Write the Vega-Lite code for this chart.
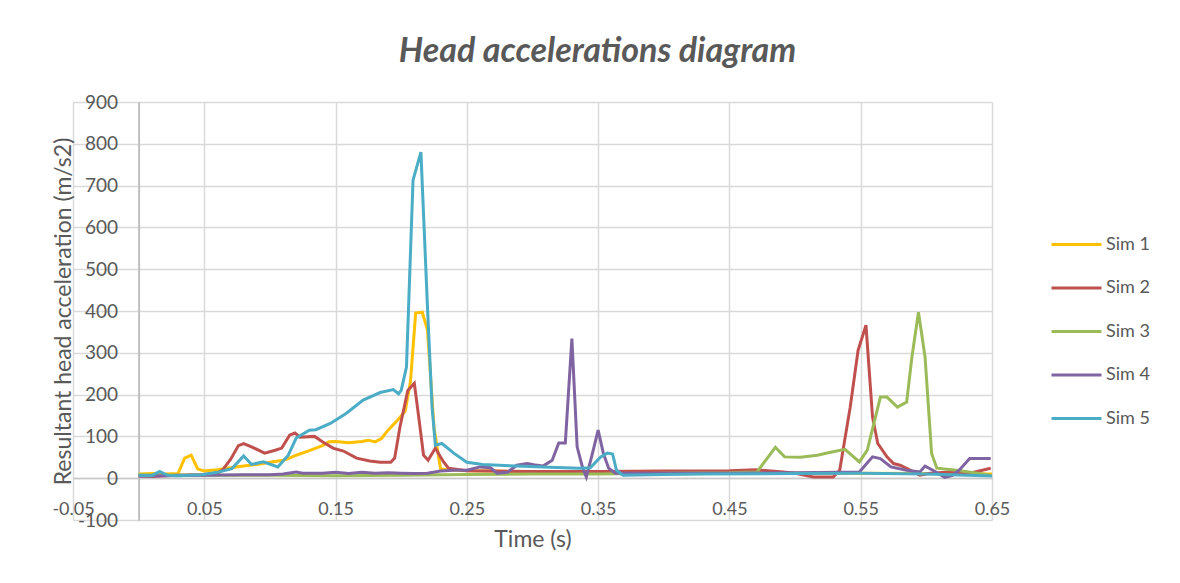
{
  "$schema": "https://vega.github.io/schema/vega-lite/v6.json",
  "autosize": {"type": "none"},
  "padding": {"left": 73, "top": 102, "right": 188, "bottom": 63},
  "width": 919,
  "height": 418,
  "background": "white",
  "config": {
    "font": "Lato",
    "view": {"stroke": null},
    "axis": {"labelFont": "Lato", "titleFont": "Lato", "labelColor": "#595959", "titleColor": "#595959", "titleFontWeight": "normal", "gridColor": "#d9d9d9", "gridWidth": 1.5, "ticks": false}
  },
  "title": {"text": "Head accelerations diagram", "font": "Lato", "fontSize": 34, "fontStyle": "italic", "fontWeight": "bold", "color": "#595959", "anchor": "middle", "dx": 65, "offset": 24},
  "data": {"values": [
    {"series":"Sim 1","time":0,"acc":10},{"series":"Sim 1","time":0.01,"acc":11},{"series":"Sim 1","time":0.02,"acc":10},{"series":"Sim 1","time":0.03,"acc":11},{"series":"Sim 1","time":0.035,"acc":48},{"series":"Sim 1","time":0.04,"acc":55},{"series":"Sim 1","time":0.045,"acc":22},{"series":"Sim 1","time":0.05,"acc":17},{"series":"Sim 1","time":0.06,"acc":20},{"series":"Sim 1","time":0.07,"acc":25},{"series":"Sim 1","time":0.08,"acc":29},{"series":"Sim 1","time":0.09,"acc":33},{"series":"Sim 1","time":0.1,"acc":38},{"series":"Sim 1","time":0.11,"acc":43},{"series":"Sim 1","time":0.115,"acc":48},{"series":"Sim 1","time":0.12,"acc":55},{"series":"Sim 1","time":0.13,"acc":66},{"series":"Sim 1","time":0.14,"acc":78},{"series":"Sim 1","time":0.145,"acc":87},{"series":"Sim 1","time":0.15,"acc":88},{"series":"Sim 1","time":0.16,"acc":85},{"series":"Sim 1","time":0.17,"acc":88},{"series":"Sim 1","time":0.175,"acc":91},{"series":"Sim 1","time":0.18,"acc":87},{"series":"Sim 1","time":0.185,"acc":95},{"series":"Sim 1","time":0.19,"acc":115},{"series":"Sim 1","time":0.197,"acc":138},{"series":"Sim 1","time":0.203,"acc":160},{"series":"Sim 1","time":0.207,"acc":230},{"series":"Sim 1","time":0.211,"acc":395},{"series":"Sim 1","time":0.216,"acc":397},{"series":"Sim 1","time":0.22,"acc":355},{"series":"Sim 1","time":0.225,"acc":120},{"series":"Sim 1","time":0.23,"acc":22},{"series":"Sim 1","time":0.24,"acc":19},{"series":"Sim 1","time":0.25,"acc":18},{"series":"Sim 1","time":0.27,"acc":17},{"series":"Sim 1","time":0.3,"acc":15},{"series":"Sim 1","time":0.35,"acc":15},{"series":"Sim 1","time":0.4,"acc":14},{"series":"Sim 1","time":0.45,"acc":13},{"series":"Sim 1","time":0.5,"acc":12},{"series":"Sim 1","time":0.55,"acc":12},{"series":"Sim 1","time":0.6,"acc":11},{"series":"Sim 1","time":0.65,"acc":10},
    {"series":"Sim 2","time":0,"acc":5},{"series":"Sim 2","time":0.01,"acc":4},{"series":"Sim 2","time":0.02,"acc":6},{"series":"Sim 2","time":0.03,"acc":7},{"series":"Sim 2","time":0.04,"acc":8},{"series":"Sim 2","time":0.05,"acc":9},{"series":"Sim 2","time":0.06,"acc":12},{"series":"Sim 2","time":0.064,"acc":20},{"series":"Sim 2","time":0.07,"acc":45},{"series":"Sim 2","time":0.076,"acc":78},{"series":"Sim 2","time":0.08,"acc":83},{"series":"Sim 2","time":0.086,"acc":75},{"series":"Sim 2","time":0.096,"acc":60},{"series":"Sim 2","time":0.104,"acc":67},{"series":"Sim 2","time":0.109,"acc":72},{"series":"Sim 2","time":0.115,"acc":103},{"series":"Sim 2","time":0.119,"acc":108},{"series":"Sim 2","time":0.123,"acc":98},{"series":"Sim 2","time":0.134,"acc":100},{"series":"Sim 2","time":0.14,"acc":87},{"series":"Sim 2","time":0.148,"acc":72},{"series":"Sim 2","time":0.156,"acc":65},{"series":"Sim 2","time":0.166,"acc":48},{"series":"Sim 2","time":0.176,"acc":41},{"series":"Sim 2","time":0.184,"acc":38},{"series":"Sim 2","time":0.192,"acc":38},{"series":"Sim 2","time":0.195,"acc":48},{"series":"Sim 2","time":0.199,"acc":122},{"series":"Sim 2","time":0.205,"acc":210},{"series":"Sim 2","time":0.21,"acc":227},{"series":"Sim 2","time":0.214,"acc":130},{"series":"Sim 2","time":0.217,"acc":55},{"series":"Sim 2","time":0.2205,"acc":43},{"series":"Sim 2","time":0.226,"acc":72},{"series":"Sim 2","time":0.232,"acc":40},{"series":"Sim 2","time":0.236,"acc":24},{"series":"Sim 2","time":0.25,"acc":18},{"series":"Sim 2","time":0.3,"acc":16},{"series":"Sim 2","time":0.35,"acc":16},{"series":"Sim 2","time":0.4,"acc":17},{"series":"Sim 2","time":0.45,"acc":18},{"series":"Sim 2","time":0.47,"acc":20},{"series":"Sim 2","time":0.491,"acc":15},{"series":"Sim 2","time":0.5,"acc":12},{"series":"Sim 2","time":0.514,"acc":3},{"series":"Sim 2","time":0.529,"acc":3},{"series":"Sim 2","time":0.534,"acc":19},{"series":"Sim 2","time":0.542,"acc":170},{"series":"Sim 2","time":0.548,"acc":306},{"series":"Sim 2","time":0.554,"acc":366},{"series":"Sim 2","time":0.559,"acc":146},{"series":"Sim 2","time":0.563,"acc":83},{"series":"Sim 2","time":0.57,"acc":51},{"series":"Sim 2","time":0.575,"acc":35},{"series":"Sim 2","time":0.58,"acc":31},{"series":"Sim 2","time":0.588,"acc":19},{"series":"Sim 2","time":0.595,"acc":7},{"series":"Sim 2","time":0.603,"acc":12},{"series":"Sim 2","time":0.618,"acc":15},{"series":"Sim 2","time":0.633,"acc":12},{"series":"Sim 2","time":0.649,"acc":24},
    {"series":"Sim 3","time":0,"acc":8},{"series":"Sim 3","time":0.05,"acc":7},{"series":"Sim 3","time":0.1,"acc":7},{"series":"Sim 3","time":0.15,"acc":6},{"series":"Sim 3","time":0.2,"acc":7},{"series":"Sim 3","time":0.25,"acc":9},{"series":"Sim 3","time":0.3,"acc":10},{"series":"Sim 3","time":0.35,"acc":10},{"series":"Sim 3","time":0.4,"acc":12},{"series":"Sim 3","time":0.45,"acc":13},{"series":"Sim 3","time":0.471,"acc":15},{"series":"Sim 3","time":0.485,"acc":74},{"series":"Sim 3","time":0.492,"acc":51},{"series":"Sim 3","time":0.504,"acc":50},{"series":"Sim 3","time":0.517,"acc":55},{"series":"Sim 3","time":0.527,"acc":62},{"series":"Sim 3","time":0.538,"acc":69},{"series":"Sim 3","time":0.549,"acc":39},{"series":"Sim 3","time":0.555,"acc":67},{"series":"Sim 3","time":0.565,"acc":194},{"series":"Sim 3","time":0.57,"acc":194},{"series":"Sim 3","time":0.578,"acc":170},{"series":"Sim 3","time":0.585,"acc":182},{"series":"Sim 3","time":0.589,"acc":290},{"series":"Sim 3","time":0.594,"acc":397},{"series":"Sim 3","time":0.599,"acc":290},{"series":"Sim 3","time":0.604,"acc":59},{"series":"Sim 3","time":0.608,"acc":24},{"series":"Sim 3","time":0.623,"acc":19},{"series":"Sim 3","time":0.639,"acc":12},{"series":"Sim 3","time":0.649,"acc":7},
    {"series":"Sim 4","time":0,"acc":5},{"series":"Sim 4","time":0.02,"acc":6},{"series":"Sim 4","time":0.05,"acc":7},{"series":"Sim 4","time":0.08,"acc":8},{"series":"Sim 4","time":0.1,"acc":8},{"series":"Sim 4","time":0.11,"acc":10},{"series":"Sim 4","time":0.12,"acc":15},{"series":"Sim 4","time":0.125,"acc":12},{"series":"Sim 4","time":0.14,"acc":12},{"series":"Sim 4","time":0.15,"acc":14},{"series":"Sim 4","time":0.16,"acc":11},{"series":"Sim 4","time":0.17,"acc":14},{"series":"Sim 4","time":0.18,"acc":12},{"series":"Sim 4","time":0.19,"acc":13},{"series":"Sim 4","time":0.2,"acc":12},{"series":"Sim 4","time":0.21,"acc":11},{"series":"Sim 4","time":0.22,"acc":12},{"series":"Sim 4","time":0.23,"acc":17},{"series":"Sim 4","time":0.24,"acc":19},{"series":"Sim 4","time":0.25,"acc":19},{"series":"Sim 4","time":0.26,"acc":27},{"series":"Sim 4","time":0.268,"acc":25},{"series":"Sim 4","time":0.273,"acc":12},{"series":"Sim 4","time":0.281,"acc":14},{"series":"Sim 4","time":0.288,"acc":31},{"series":"Sim 4","time":0.296,"acc":35},{"series":"Sim 4","time":0.301,"acc":32},{"series":"Sim 4","time":0.308,"acc":29},{"series":"Sim 4","time":0.315,"acc":43},{"series":"Sim 4","time":0.32,"acc":84},{"series":"Sim 4","time":0.325,"acc":84},{"series":"Sim 4","time":0.33,"acc":334},{"series":"Sim 4","time":0.334,"acc":75},{"series":"Sim 4","time":0.338,"acc":27},{"series":"Sim 4","time":0.341,"acc":3},{"series":"Sim 4","time":0.345,"acc":51},{"series":"Sim 4","time":0.35,"acc":115},{"series":"Sim 4","time":0.354,"acc":59},{"series":"Sim 4","time":0.358,"acc":24},{"series":"Sim 4","time":0.363,"acc":12},{"series":"Sim 4","time":0.4,"acc":12},{"series":"Sim 4","time":0.45,"acc":12},{"series":"Sim 4","time":0.5,"acc":13},{"series":"Sim 4","time":0.549,"acc":15},{"series":"Sim 4","time":0.559,"acc":51},{"series":"Sim 4","time":0.565,"acc":47},{"series":"Sim 4","time":0.573,"acc":27},{"series":"Sim 4","time":0.585,"acc":19},{"series":"Sim 4","time":0.595,"acc":15},{"series":"Sim 4","time":0.599,"acc":29},{"series":"Sim 4","time":0.605,"acc":19},{"series":"Sim 4","time":0.614,"acc":2},{"series":"Sim 4","time":0.62,"acc":7},{"series":"Sim 4","time":0.625,"acc":19},{"series":"Sim 4","time":0.633,"acc":47},{"series":"Sim 4","time":0.649,"acc":47},
    {"series":"Sim 5","time":0,"acc":7},{"series":"Sim 5","time":0.01,"acc":6},{"series":"Sim 5","time":0.016,"acc":16},{"series":"Sim 5","time":0.022,"acc":7},{"series":"Sim 5","time":0.03,"acc":6},{"series":"Sim 5","time":0.04,"acc":7},{"series":"Sim 5","time":0.048,"acc":8},{"series":"Sim 5","time":0.06,"acc":14},{"series":"Sim 5","time":0.071,"acc":23},{"series":"Sim 5","time":0.08,"acc":53},{"series":"Sim 5","time":0.086,"acc":33},{"series":"Sim 5","time":0.095,"acc":39},{"series":"Sim 5","time":0.106,"acc":27},{"series":"Sim 5","time":0.114,"acc":55},{"series":"Sim 5","time":0.12,"acc":96},{"series":"Sim 5","time":0.13,"acc":115},{"series":"Sim 5","time":0.135,"acc":116},{"series":"Sim 5","time":0.146,"acc":131},{"series":"Sim 5","time":0.158,"acc":155},{"series":"Sim 5","time":0.171,"acc":187},{"series":"Sim 5","time":0.184,"acc":205},{"series":"Sim 5","time":0.194,"acc":212},{"series":"Sim 5","time":0.198,"acc":202},{"series":"Sim 5","time":0.2,"acc":210},{"series":"Sim 5","time":0.204,"acc":266},{"series":"Sim 5","time":0.209,"acc":713},{"series":"Sim 5","time":0.215,"acc":780},{"series":"Sim 5","time":0.22,"acc":410},{"series":"Sim 5","time":0.2235,"acc":170},{"series":"Sim 5","time":0.226,"acc":79},{"series":"Sim 5","time":0.231,"acc":83},{"series":"Sim 5","time":0.24,"acc":60},{"series":"Sim 5","time":0.25,"acc":38},{"series":"Sim 5","time":0.262,"acc":33},{"series":"Sim 5","time":0.288,"acc":29},{"series":"Sim 5","time":0.313,"acc":26},{"series":"Sim 5","time":0.336,"acc":24},{"series":"Sim 5","time":0.344,"acc":25},{"series":"Sim 5","time":0.352,"acc":51},{"series":"Sim 5","time":0.357,"acc":60},{"series":"Sim 5","time":0.361,"acc":58},{"series":"Sim 5","time":0.364,"acc":19},{"series":"Sim 5","time":0.369,"acc":7},{"series":"Sim 5","time":0.4,"acc":9},{"series":"Sim 5","time":0.43,"acc":10},{"series":"Sim 5","time":0.5,"acc":11},{"series":"Sim 5","time":0.55,"acc":12},{"series":"Sim 5","time":0.6,"acc":10},{"series":"Sim 5","time":0.65,"acc":5}
  ]},
  "mark": {"type": "line", "strokeWidth": 3, "clip": true},
  "encoding": {
    "x": {"field": "time", "type": "quantitative", "title": "Time (s)",
      "scale": {"domain": [-0.05, 0.65], "nice": false, "zero": false},
      "axis": {"values": [-0.05, 0.05, 0.15, 0.25, 0.35, 0.45, 0.55, 0.65], "format": ".2f", "labelExpr": "replace(datum.label, '\u2212', '-')", "offset": -42, "labelPadding": 22, "labelFontSize": 18, "titleFontSize": 23, "titlePadding": 10, "domainColor": "#c8c8c8", "domainWidth": 1.5, "labelFlush": false}},
    "y": {"field": "acc", "type": "quantitative", "title": "Resultant head acceleration (m/s2)",
      "scale": {"domain": [-100, 900], "nice": false, "zero": false},
      "axis": {"values": [-100, 0, 100, 200, 300, 400, 500, 600, 700, 800, 900], "labelExpr": "replace(datum.label, '\u2212', '-')", "offset": -65.6, "labelPadding": 21, "labelFontSize": 19, "titleFontSize": 23, "titlePadding": 2, "domainColor": "#bfbfbf", "domainWidth": 2, "labelFlush": false}},
    "color": {"field": "series", "type": "nominal", "title": null,
      "scale": {"domain": ["Sim 1", "Sim 2", "Sim 3", "Sim 4", "Sim 5"], "range": ["#FFC000", "#C0504D", "#9BBB59", "#8064A2", "#4BACC6"]},
      "legend": {"orient": "none", "legendX": 977, "legendY": 116, "symbolType": "stroke", "symbolSize": 2500, "symbolStrokeWidth": 3, "labelFontSize": 18, "labelColor": "#595959", "labelFont": "Lato", "rowPadding": 7.5, "labelOffset": 3}}
  }
}
